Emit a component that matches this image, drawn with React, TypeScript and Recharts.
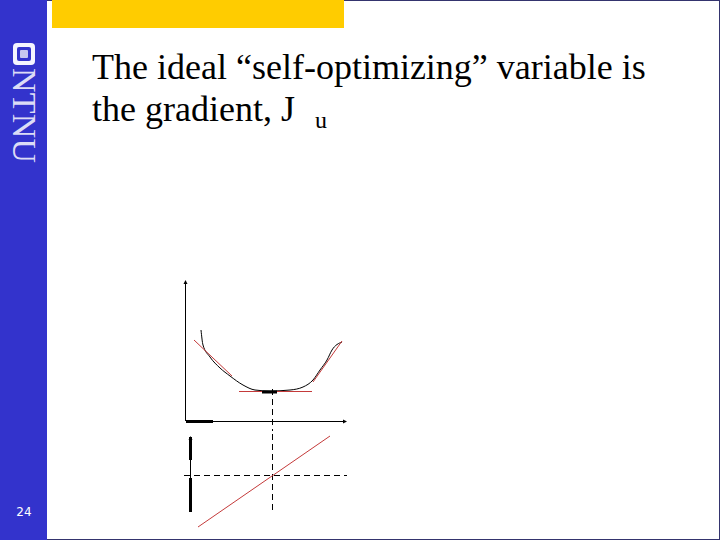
import React from "react";
import { ComposedChart, XAxis, YAxis, Line } from "recharts";

// upper panel: cost J(u)
const curveU = [1.5, 1.7, 2.4, 3.4, 4.4, 5.7, 6.9, 8.4, 10.4, 11.7, 12.7, 13.4, 14.1, 14.6, 15.6];
const curveJ = [9.1, 7.6, 6.4, 5.3, 4.5, 3.6, 3.1, 3.0, 3.1, 3.4, 4.1, 5.1, 6.1, 7.1, 7.9];

const leftTangentU = [0.8, 4.6];
const leftTangentJ = [8.1, 4.5];
const flatTangentU = [5.3, 12.6];
const flatTangentJ = [2.95, 2.95];
const rightTangentU = [12.7, 15.6];
const rightTangentJ = [3.9, 8.0];
const optimumMarkU = [7.6, 9.1];
const optimumMarkJ = [2.9, 2.9];

const uOpt = 8.65;

// lower panel: gradient Ju(u)
const gradU = [1.2, 14.4];
const gradJu = [-5.2, 3.9];

const RED = "#c43a3a";
const BLUE = "#3333cc";

type Pt = { u: number; v: number };

function pts(us: number[], vs: number[]): Pt[] {
  return us.map((u, i) => ({ u, v: vs[i] }));
}

function arrowDot(dir: "up" | "right", count: number) {
  return (props: any) => {
    const { cx, cy, index } = props;
    if (index !== count - 1) return <g key={`d-${index}`} />;
    const p =
      dir === "up"
        ? `${cx - 2},${cy + 3} ${cx + 2},${cy + 3} ${cx},${cy - 1}`
        : `${cx - 3},${cy - 2} ${cx - 3},${cy + 2} ${cx + 1},${cy}`;
    return <polygon key={`d-${index}`} points={p} fill="#000" />;
  };
}

function Seg({ data, color = "#000", width = 1, dash, type = "linear", dot }: any) {
  return (
    <Line
      data={data}
      dataKey="v"
      type={type}
      stroke={color}
      strokeWidth={width}
      strokeDasharray={dash}
      dot={dot ?? false}
      activeDot={false}
      isAnimationActive={false}
    />
  );
}

function CostPanel() {
  const yAxisLine = pts([-0.05, -0.05], [0, 14]);
  const xAxisLine = pts([0, 16], [-0.05, -0.05]);
  return (
    <ComposedChart width={180} height={160} margin={{ top: 0, right: 0, bottom: 0, left: 0 }}>
      <XAxis type="number" dataKey="u" domain={[-1, 17]} hide allowDataOverflow />
      <YAxis type="number" dataKey="v" domain={[-1, 15]} hide allowDataOverflow />
      {Seg({ data: yAxisLine, dot: arrowDot("up", 2) })}
      {Seg({ data: xAxisLine, dot: arrowDot("right", 2) })}
      {Seg({ data: pts([0, 2.7], [-0.05, -0.05]), width: 3 })}
      {Seg({ data: pts(curveU, curveJ), type: "monotone" })}
      {Seg({ data: pts(leftTangentU, leftTangentJ), color: RED })}
      {Seg({ data: pts(flatTangentU, flatTangentJ), color: RED })}
      {Seg({ data: pts(rightTangentU, rightTangentJ), color: RED })}
      {Seg({ data: pts(optimumMarkU, optimumMarkJ), width: 3 })}
      {Seg({ data: pts([uOpt, uOpt], [3.2, -1]), dash: "6 4" })}
    </ComposedChart>
  );
}

function GradientPanel() {
  return (
    <ComposedChart width={180} height={110} margin={{ top: 0, right: 0, bottom: 0, left: 0 }}>
      <XAxis type="number" dataKey="u" domain={[-1, 17]} hide allowDataOverflow />
      <YAxis type="number" dataKey="v" domain={[-5.5, 5.5]} hide allowDataOverflow />
      {Seg({ data: pts([0.45, 0.45], [-3.7, 3.8]), dot: arrowDot("up", 2) })}
      {Seg({ data: pts([0.45, 0.45], [1.5, 3.8]), width: 3 })}
      {Seg({ data: pts([0.45, 0.45], [-3.7, -0.3]), width: 3 })}
      {Seg({ data: pts([-0.2, 16.1], [-0.05, -0.05]), dash: "6 4" })}
      {Seg({ data: pts([uOpt, uOpt], [-3.5, 4.5]), dash: "6 4" })}
      {Seg({ data: pts(gradU, gradJu), color: RED })}
    </ComposedChart>
  );
}

export default function App() {
  return (
    <div
      style={{
        position: "absolute",
        left: 0,
        top: 0,
        width: 720,
        height: 540,
        background: "#fff",
        overflow: "hidden",
        fontFamily: "'Liberation Serif', 'Times New Roman', serif",
      }}
    >
      <div
        style={{
          position: "absolute",
          inset: 0,
          border: "1px solid #34346e",
          boxSizing: "border-box",
        }}
      />
      <div style={{ position: "absolute", left: 0, top: 0, width: 47, height: 540, background: BLUE }} />
      <div style={{ position: "absolute", left: 52, top: 0, width: 292, height: 28, background: "#ffcc00" }} />

      <svg style={{ position: "absolute", left: 0, top: 0 }} width={47} height={540}>
        <rect x={13} y={43} width={22} height={22} rx={4} fill="#f4f4ff" />
        <rect x={17} y={47} width={14} height={14} rx={2} fill={BLUE} />
        <rect x={20} y={50} width={8} height={8} rx={1} fill="#c8c8f0" />
        <text
          x={13}
          y={68}
          transform="rotate(90 13 68)"
          fontSize={34}
          textLength={95}
          fill="#dcdcf6"
          fontFamily="'Liberation Serif', serif"
        >
          NTNU
        </text>
        <text x={24} y={516} textAnchor="middle" fontSize={12} fill="#fff" fontFamily="'DejaVu Sans', sans-serif">
          24
        </text>
      </svg>

      <div
        style={{
          position: "absolute",
          left: 92,
          top: 46,
          fontSize: 36,
          lineHeight: "42px",
          color: "#000",
          whiteSpace: "nowrap",
        }}
      >
        <div>The ideal “self-optimizing” variable is</div>
        <div>
          the gradient, J
          <span style={{ fontSize: 24, position: "relative", top: 7, marginLeft: 20 }}>u</span>
        </div>
      </div>

      <div style={{ position: "absolute", left: 176, top: 271 }}>
        <CostPanel />
      </div>
      <div style={{ position: "absolute", left: 176, top: 420 }}>
        <GradientPanel />
      </div>
    </div>
  );
}
